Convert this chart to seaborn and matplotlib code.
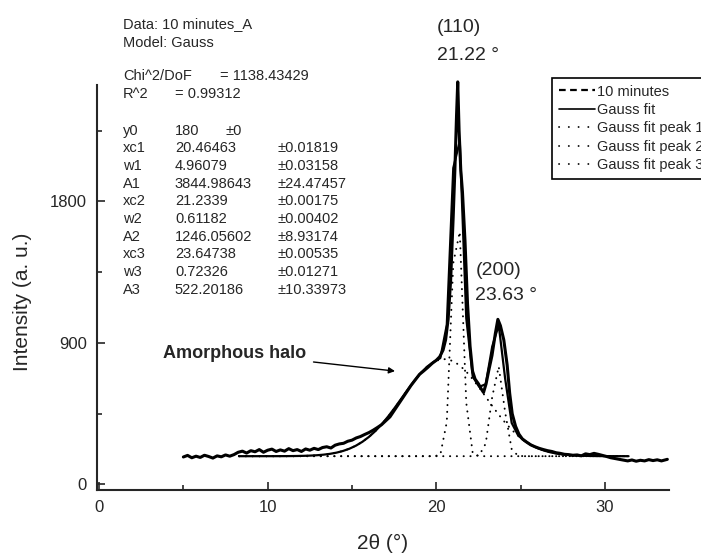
import numpy as np
import seaborn as sns
import matplotlib.pyplot as plt
from matplotlib.lines import Line2D
from matplotlib.ticker import MultipleLocator

two_theta = [5.0, 5.25, 5.5, 5.75, 6.0, 6.25, 6.5, 6.75, 7.0, 7.25, 7.5, 7.75,
             8.0, 8.25, 8.5, 8.75, 9.0, 9.25, 9.5, 9.75, 10.0, 10.25, 10.5, 10.75,
             11.0, 11.25, 11.5, 11.75, 12.0, 12.25, 12.5, 12.75, 13.0, 13.25, 13.5,
             13.75, 14.0, 14.25, 14.5, 14.75, 15.0, 15.25, 15.5, 15.75, 16.0, 16.25,
             16.5, 16.75, 17.0, 17.25, 17.5, 17.75, 18.0, 18.25, 18.5, 18.75, 19.0,
             19.25, 19.5, 19.75, 20.0, 20.2, 20.4, 20.55, 20.7, 20.85, 21.0, 21.1,
             21.2, 21.27, 21.35, 21.45, 21.55, 21.7, 21.85, 22.0, 22.15, 22.3, 22.5,
             22.65, 22.8, 22.95, 23.1, 23.3, 23.5, 23.65, 23.8, 24.0, 24.2, 24.35,
             24.5, 24.7, 24.9, 25.1, 25.35, 25.6, 25.85, 26.1, 26.35, 26.6, 26.85,
             27.1, 27.35, 27.6, 27.85, 28.1, 28.35, 28.6, 28.85, 29.1, 29.35, 29.6,
             29.85, 30.1, 30.35, 30.6, 30.85, 31.1, 31.35, 31.6, 31.85, 32.1, 32.35,
             32.6, 32.85, 33.1, 33.35, 33.7]
intensity = [175, 185, 170, 180, 172, 186, 178, 168, 182, 176, 188, 180,
             190, 205, 212, 200, 215, 208, 222, 205, 218, 225, 210, 220,
             212, 228, 215, 222, 210, 226, 218, 230, 222, 235, 240,
             232, 250, 258, 262, 275, 282, 296, 305, 318, 330, 345,
             362, 380, 405, 430, 470, 510, 550, 590, 630, 665, 700,
             722, 745, 770, 790, 812, 855, 920, 1050, 1300, 1700, 2000,
             2350, 2560, 2250, 2000, 1860, 1550, 1150, 880, 720, 670, 640,
             610, 585, 640, 720, 820, 960, 1050, 1010, 920, 760, 580,
             450, 370, 320, 290, 270, 252, 240, 230, 222, 215, 210,
             202, 198, 192, 190, 186, 188, 182, 195, 190, 198, 192,
             185, 178, 170, 165, 160, 155, 150, 156, 148, 154, 150,
             158, 152, 157, 150, 160]

# Gauss fit report (Origin)
y0 = 180
xc = [20.46463, 21.2339, 23.64738]
w = [4.96079, 0.61182, 0.72326]
A = [3844.98643, 1246.05602, 522.20186]

param_names = ["y0", "xc1", "w1", "A1", "xc2", "w2", "A2", "xc3", "w3", "A3"]
param_values = ["180", "20.46463", "4.96079", "3844.98643", "21.2339", "0.61182",
                "1246.05602", "23.64738", "0.72326", "522.20186"]
param_errors = ["±0", "±0.01819", "±0.03158", "±24.47457", "±0.00175", "±0.00402",
                "±8.93174", "±0.00535", "±0.01271", "±10.33973"]

# fitted curve, drawn on Origin's coarse grid
fit_x = np.arange(8.3, 31.5, 0.385)
peaks = [y0 + a / (wi * np.sqrt(np.pi / 2)) * np.exp(-2 * ((fit_x - c) / wi) ** 2)
         for c, wi, a in zip(xc, w, A)]
fit_total = y0 + sum(p - y0 for p in peaks)

sns.set_style("ticks")
plt.rcParams["font.family"] = ["Liberation Sans", "DejaVu Sans"]

fig = plt.figure(figsize=(7.01, 5.56), dpi=100)
ax = fig.add_axes([0.1377, 0.1187, 0.8167, 0.7284])

for p in peaks:
    sns.lineplot(x=fit_x, y=p, ax=ax, color="black", lw=1.4,
                 linestyle=(0, (0.1, 3.4)), dash_capstyle="round")
sns.lineplot(x=fit_x, y=fit_total, ax=ax, color="black", lw=1.6)
sns.lineplot(x=two_theta, y=intensity, ax=ax, color="black", lw=2.2)
for line in ax.lines:
    line.set_clip_on(False)

ax.set_xlim(-0.15, 33.8)
ax.set_ylim(-35, 2540)
ax.xaxis.set_major_locator(MultipleLocator(10))
ax.xaxis.set_minor_locator(MultipleLocator(5))
ax.yaxis.set_major_locator(MultipleLocator(900))
ax.yaxis.set_minor_locator(MultipleLocator(450))
ax.tick_params(which="both", direction="in", width=1.2, labelsize=12, pad=7)
ax.tick_params(which="major", length=6)
ax.tick_params(which="minor", length=3.5)
sns.despine(ax=ax)
for s in ["left", "bottom"]:
    ax.spines[s].set_linewidth(1.5)

ax.set_xlabel("2θ (°)", fontsize=15, labelpad=14)
ax.set_ylabel("Intensity (a. u.)", fontsize=15)
ax.yaxis.set_label_coords(-0.113, 0.464)

# fit report
ax.text(1.42, 2931, "Data: 10 minutes_A", fontsize=10.5, va="center")
ax.text(1.42, 2804, "Model: Gauss", fontsize=10.5, va="center")
ax.text(1.42, 2595, "Chi^2/DoF", fontsize=10.5, va="center")
ax.text(7.17, 2595, "= 1138.43429", fontsize=10.5, va="center")
ax.text(1.42, 2486, "R^2", fontsize=10.5, va="center")
ax.text(4.5, 2486, "= 0.99312", fontsize=10.5, va="center")
for i, (n, v, e) in enumerate(zip(param_names, param_values, param_errors)):
    yy = 2250 - i * 112.5
    ax.text(1.42, yy, n, fontsize=10.5, va="center")
    ax.text(4.5, yy, v, fontsize=10.5, va="center")
    ax.text(7.47 if i == 0 else 10.61, yy, e, fontsize=10.5, va="center")

# peak labels
ax.text(20.05, 2906, "(110)", fontsize=14, va="center")
ax.text(20.05, 2728, "21.22 °", fontsize=14, va="center")
ax.text(22.35, 1362, "(200)", fontsize=14, va="center")
ax.text(22.3, 1204, "23.63 °", fontsize=14, va="center")
ax.annotate("Amorphous halo", xy=(17.55, 721), xytext=(3.79, 835),
            fontsize=13, fontweight="bold", va="center",
            arrowprops=dict(arrowstyle="-|>", color="black", lw=1,
                            mutation_scale=9, shrinkA=3, shrinkB=0))

dots = dict(color="black", lw=1.3, linestyle=(0, (0.1, 5.3)), dash_capstyle="round")
handles = [
    Line2D([], [], color="black", lw=1.6, linestyle=(0, (3, 2))),
    Line2D([], [], color="black", lw=1.2),
    Line2D([], [], **dots),
    Line2D([], [], **dots),
    Line2D([], [], **dots),
]
labels = ["10 minutes", "Gauss fit", "Gauss fit peak 1", "Gauss fit peak 2", "Gauss fit peak 3"]
leg = ax.legend(handles, labels, loc="upper left", bbox_to_anchor=(552 / 701, 1 - 78 / 556),
                bbox_transform=fig.transFigure, borderaxespad=0, fontsize=10.5,
                frameon=True, fancybox=False, edgecolor="black", framealpha=1,
                handlelength=2.5, handletextpad=0.15, labelspacing=0.3, borderpad=0.45)
leg.get_frame().set_linewidth(1.2)

fig.savefig("out.png", dpi=100)
